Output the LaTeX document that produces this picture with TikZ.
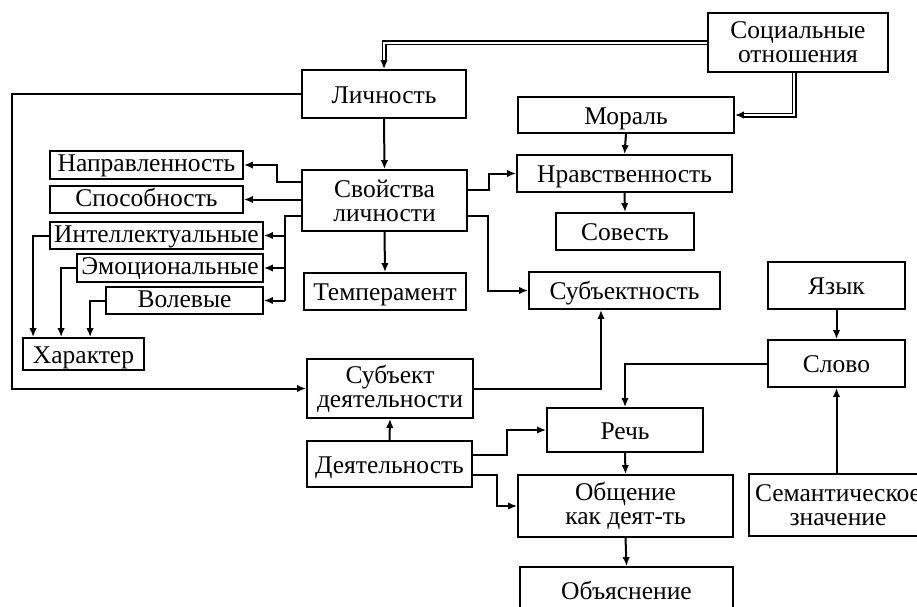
\documentclass[tikz,border=0pt]{standalone}
\usepackage{fontspec}
\setmainfont{Liberation Serif}
\usetikzlibrary{arrows.meta,calc}
\begin{document}
\begin{tikzpicture}[x=1pt,y=-1pt,
  box/.style={draw,line width=1.8pt,inner sep=0pt,align=center,
    font=\fontsize{25.5}{24}\selectfont,text height=19pt,text depth=1pt},
  tight/.style={text height=17pt,text depth=4pt},
  two/.style={text height=,text depth=},
  arr/.style={line width=2pt,-{Latex[length=9pt,width=7.5pt]}},
  ln/.style={line width=2pt},
  dbl/.style={double,line width=1.5pt,double distance=2pt}]
\clip (0,0) rectangle (917,606);
\fill[white] (0,0) rectangle (917,606);
% nodes
\node[box,two,minimum width=180,minimum height=59] (soc) at (798,42.5) {Социальные\\отношения};
\node[box,minimum width=164,minimum height=48] (lich) at (384,94) {Личность};
\node[box,minimum width=216,minimum height=36] (mor) at (626,115) {Мораль};
\node[box,minimum width=215,minimum height=37] (nrav) at (624.5,173.5) {Нравственность};
\node[box,minimum width=138,minimum height=37] (sov) at (625,231.5) {Совесть};
\node[box,minimum width=191,minimum height=37] (subj) at (624.5,290.5) {Субъектность};
\node[box,minimum width=137,minimum height=47] (yaz) at (836.5,285.5) {Язык};
\node[box,minimum width=137,minimum height=47] (slovo) at (836.5,363.5) {Слово};
\node[box,two,minimum width=178,minimum height=62] (sem) at (838,505) {Семантическое\\значение};
\node[box,minimum width=156,minimum height=44] (rech) at (625,430) {Речь};
\node[box,two,minimum width=215,minimum height=62] (obsh) at (625.5,506) {Общение\\как деят-ть};
\node[box,minimum width=213,minimum height=46] (obyas) at (626.5,590) {Объяснение};
\node[box,minimum width=165,minimum height=46] (deya) at (389.5,464) {Деятельность};
\node[box,two,minimum width=166,minimum height=59] (subd) at (390,388.5) {Субъект\\деятельности};
\node[box,two,minimum width=165,minimum height=61] (svo) at (384.5,200.5) {Свойства\\личности};
\node[box,minimum width=162,minimum height=37] (temp) at (385,291.5) {Темперамент};
\node[box,tight,minimum width=193,minimum height=28] (napr) at (146.5,165) {Направленность};
\node[box,tight,minimum width=193,minimum height=27] (spos) at (146.5,199.5) {Способность};
\node[box,tight,minimum width=213,minimum height=27] (intl) at (156.5,235.5) {Интеллектуальные};
\node[box,tight,minimum width=186,minimum height=28] (emo) at (170,268) {Эмоциональные};
\node[box,tight,minimum width=157,minimum height=27] (vol) at (184.5,300.5) {Волевые};
\node[box,minimum width=121,minimum height=32] (har) at (83.5,354) {Характер};
% double connectors
\draw[dbl] (soc.west) -| ([yshift=8pt]lich.north);
\draw[arr] ([yshift=9pt]lich.north) -- (lich.north);
\draw[dbl] ([xshift=-4pt]soc.south) |- ([xshift=8pt]mor.east);
\draw[arr] ([xshift=9pt]mor.east) -- (mor.east);
% connectors
\draw[arr] (lich.south) -- (svo.north);
\draw[arr] (mor.south) -- (nrav.north);
\draw[arr] (nrav.south) -- (sov.north);
\draw[arr] (svo.south) -- (temp.north);
\draw[arr] (svo.east |- 0,190) -- (489,190) |- (nrav.west);
\draw[arr] (svo.east |- 0,216) -- (488,216) |- (subj.west);
\draw[arr] (svo.west |- 0,182) -- (277,182) |- (napr.east);
\draw[arr] (svo.west |- spos.east) -- (spos.east);
\draw[ln] (svo.west |- 0,216) -- (285,216) -- (285,300.5);
\draw[arr] (285,235.5) -- (intl.east);
\draw[arr] (285,268) -- (emo.east);
\draw[arr] (285,300.5) -- (vol.east);
\draw[arr] (intl.west) -| ([xshift=11pt]har.north west);
\draw[arr] (emo.west) -| ([xshift=39pt]har.north west);
\draw[arr] (vol.west) -| ([xshift=68pt]har.north west);
\draw[arr] (lich.west) -- (12,94) |- (subd.west);
\draw[arr] (deya.north) -- (subd.south);
\draw[arr] (subd.east) -| ([xshift=-23.5pt]subj.south);
\draw[arr] (deya.east |- 0,455) -- (507,455) |- (rech.west);
\draw[arr] (deya.east |- 0,475) -- (497,475) |- (obsh.west);
\draw[arr] (slovo.west) -| (rech.north);
\draw[arr] (rech.south) -- (obsh.north);
\draw[arr] (obsh.south) -- (obyas.north);
\draw[arr] (yaz.south) -- (slovo.north);
\draw[arr] (slovo.south |- sem.north) -- (slovo.south);
\end{tikzpicture}
\end{document}
